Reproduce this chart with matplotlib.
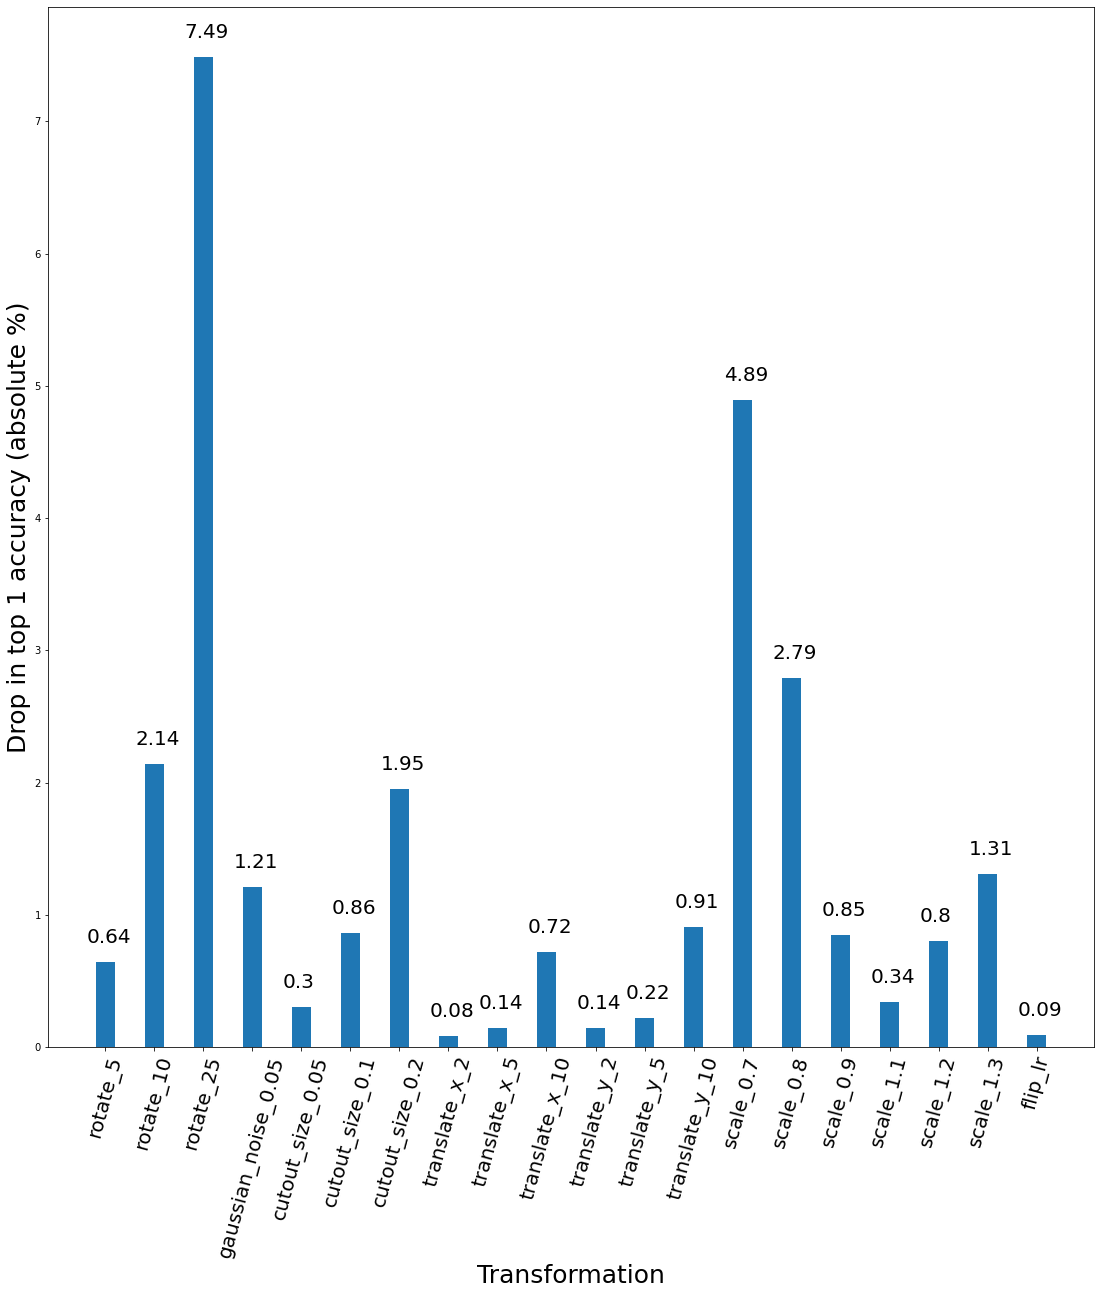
import matplotlib
matplotlib.use("Agg")
import matplotlib.pyplot as plt
import numpy as np

categories = ["rotate_5", "rotate_10", "rotate_25", "gaussian_noise_0.05",
              "cutout_size_0.05", "cutout_size_0.1", "cutout_size_0.2",
              "translate_x_2", "translate_x_5", "translate_x_10",
              "translate_y_2", "translate_y_5", "translate_y_10",
              "scale_0.7", "scale_0.8", "scale_0.9", "scale_1.1",
              "scale_1.2", "scale_1.3", "flip_lr"]
values = [0.64, 2.14, 7.49, 1.21, 0.3, 0.86, 1.95, 0.08, 0.14, 0.72,
          0.14, 0.22, 0.91, 4.89, 2.79, 0.85, 0.34, 0.8, 1.31, 0.09]
value_labels = ["0.64", "2.14", "7.49", "1.21", "0.3", "0.86", "1.95", "0.08",
                "0.14", "0.72", "0.14", "0.22", "0.91", "4.89", "2.79", "0.85",
                "0.34", "0.8", "1.31", "0.09"]

DPI = 72
fig = plt.figure(figsize=(1100/DPI, 1295/DPI), dpi=DPI)
ax = fig.add_axes([48/1100, 1-1047/1295, (1094-48)/1100, (1047-7)/1295])
x = np.arange(len(categories))
bars = ax.bar(x, values, width=0.4, color="#1f77b4")
for xi, v, lab in zip(x, values, value_labels):
    ax.annotate(lab, (xi - 0.38, v), xytext=(0, 15), textcoords="offset points",
                ha="left", va="bottom", fontsize=20)
ax.set_xticks(x)
ax.set_xticklabels(categories, rotation=75, fontsize=20)
ax.set_xlabel("Transformation", fontsize=25)
ax.set_ylabel("Drop in top 1 accuracy (absolute %)", fontsize=25)
fig.savefig("out.png", dpi=DPI)
